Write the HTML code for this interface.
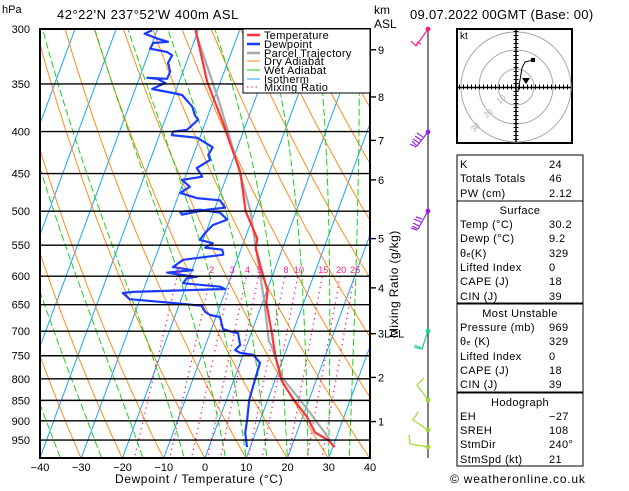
<!DOCTYPE html>
<html><head><meta charset="utf-8">
<style>
html,body{margin:0;padding:0;background:#fff;}
body{width:629px;height:486px;overflow:hidden;font-family:"Liberation Sans",sans-serif;}
svg text{font-family:"Liberation Sans",sans-serif;}
</style></head>
<body>
<svg id="chart" width="629" height="486" viewBox="0 0 629 486" xmlns="http://www.w3.org/2000/svg">
<defs><clipPath id="plotclip"><rect x="40" y="29" width="330" height="429"/></clipPath></defs>
<g id="bg" clip-path="url(#plotclip)"></g>
<g id="series" clip-path="url(#plotclip)"></g>
<g id="axes"></g>
<g id="extra"></g>
</svg>
<script>
// ---- data ----
const tempP = [969,950,930,890,845,805,750,700,645,625,600,555,540,500,448,413,389,348,300];
const tempT = [30.5,28.2,24.4,21.0,15.9,11.7,7.9,4.75,0.85,0.2,-2.2,-6.5,-7,-12.3,-17.1,-22.2,-25.9,-33.2,-40.8];
const dewP = [969,931,898,849,803,765,748,744,738,728,704,702,696,673,669,663,652,648,640,629,627,622,618,612,603,601,598,594,590,585,573,565,557,554,547,542,532,520,512,502,498,501,505,498,495,485,482,475,467,458,454,443,433,427,418,407,404,400,398,387,382,373,361,359,355,349,345,344,345,338,330,323,320,317,312,311,308,304,301];
const dewT = [9.2,7.5,6.8,5.5,5.1,4.8,2.4,-0.9,-2.4,-1.6,-3.2,-4.5,-7.2,-9.0,-11.6,-13.1,-14.4,-19.9,-32.5,-34.7,-32.3,-10.3,-11.7,-21,-20.5,-18.2,-22,-25.8,-19.8,-24.9,-23.1,-13.8,-14.5,-18.8,-17.4,-20.8,-20.2,-19,-16,-18.4,-23.5,-28.1,-27.4,-21.8,-17.6,-19.5,-25.3,-29.8,-28,-30.5,-25.9,-28,-25.5,-26.4,-26,-30.6,-37,-37,-33.8,-32,-33.2,-34.6,-38.1,-40.5,-45.9,-43.3,-45.6,-48.1,-43.2,-43.1,-44.4,-44.1,-45.6,-50,-49.8,-46.3,-49.3,-52.7,-51.2];
const parcelP = [969,948,877,795,730,720,645,574,500,435,368,302];
const parcelT = [30.2,28.5,21.1,11.2,6.1,5.0,0.4,-4.9,-11.1,-18.9,-28.5,-40.6];
const isobars = [300,350,400,450,500,550,600,650,700,750,800,850,900,950];
const xTicks = [-40,-30,-20,-10,0,10,20,30,40];
const mixRatios = [1,2,3,4,5,8,10,15,20,25];
const kmLabels = ["9","8","7","6","5","4","3","2","1"];
const kmHeights = [9,8,7,6,5,4,3,2,1];
const kmPress = [318,363,410,458,540,620,705,797,902];

// ---- axes functions ----
const X0=40, X1=370, Y0=29, Y1=458, SK=0.37, PX=4.125;
function yP(p){return Y0+356.6*Math.log(p/300);}
function xT(T,p){return X0+(T+40)*PX+(Y1-yP(p))*SK;}
const NS="http://www.w3.org/2000/svg";
function mk(tag,attrs,parent){const e=document.createElementNS(NS,tag);for(const k in attrs)e.setAttribute(k,attrs[k]);parent.appendChild(e);return e;}
const bg=document.getElementById('bg'), ser=document.getElementById('series'), ax=document.getElementById('axes'), ex=document.getElementById('extra');
function pathFrom(pts){return pts.map((q,i)=>(i?'L':'M')+q[0].toFixed(1)+' '+q[1].toFixed(1)).join(' ');}
const pressList=[];for(let p=1050;p>=290;p-=5)pressList.push(p);

// isotherms
for(let T=-130;T<=40;T+=10){
  const e=mk('path',{d:pathFrom([[xT(T,1050),yP(1050)],[xT(T,290),yP(290)]]),stroke:'#1aa3ff','stroke-width':1,fill:'none'},bg);
  
  
}
// dry adiabats
for(let th=-40;th<=220;th+=10){
  const pts=pressList.map(p=>[xT((th+273.15)*Math.pow(p/1000,0.2857)-273.15,p),yP(p)]);
  const e=mk('path',{d:pathFrom(pts),stroke:'#ff8c1a','stroke-width':1,fill:'none'},bg);
  
  
}
// wet adiabats
function es(T){return 6.112*Math.exp(17.67*T/(T+243.5));}
const wetList=[-35,-25,-15,-5,5,10,15,20,25,30,35,40];
wetList.forEach(tw=>{
  const pts=[];
  function step(T,p,dp){const rs=0.622*es(T-273.15)/(p-es(T-273.15));const Rd=287,cp=1005,L=2.5e6;
    const dTdp=(Rd*T+L*rs)/(p*(cp+L*L*rs*0.622/(Rd*T*T)));return T+dTdp*dp;}
  let Tb=tw+273.15,pb=1000; const down=[];
  while(pb<1050){Tb=step(Tb,pb,5);pb+=5;down.push([xT(Tb-273.15,pb),yP(pb)]);}
  let Tu=tw+273.15,pu=1000; pts.push([xT(tw,1000),yP(1000)]);
  while(pu>290){Tu=step(Tu,pu,-5);pu-=5;pts.push([xT(Tu-273.15,pu),yP(pu)]);}
  const all=down.reverse().concat(pts);
  const e=mk('path',{d:pathFrom(all),stroke:'#1ad11a','stroke-width':1,fill:'none','stroke-dasharray':'7,3'},bg);
  
  
});
// mixing ratio
function tdFromW(w,p){const e=w*p/(622+w);const l=Math.log(e/6.112);return 243.5*l/(17.67-l);}
mixRatios.forEach(w=>{
  const e=mk('path',{d:pathFrom([[xT(tdFromW(w,1050),1050),yP(1050)],[xT(tdFromW(w,600),600),yP(600)]]),stroke:'#ff1a8c','stroke-width':1.3,fill:'none','stroke-dasharray':'1.3,4'},bg);
  
  
  const t=mk('text',{x:xT(tdFromW(w,600),600)+1,y:yP(600)-3,'font-size':9,fill:'#ff1a8c','text-anchor':'middle'},ax);
  t.textContent=w;
  
  
});
// isobars
isobars.forEach(p=>{
  const e=mk('line',{x1:X0,x2:X1,y1:yP(p),y2:yP(p),stroke:'#000','stroke-width':1.4},ax);
  
  
  const t=mk('text',{x:30,y:yP(p)+4,'font-size':11,'text-anchor':'end',fill:'#000'},ax);
  t.textContent=p;
  
  
});
// series
function prof(P,T,color,w,name){
  const e=mk('path',{d:pathFrom(P.map((p,i)=>[xT(T[i],p),yP(p)])),stroke:color,'stroke-width':w,fill:'none','stroke-linejoin':'round'},ser);
  
  
}
prof(parcelP,parcelT,'#aaaaaa',2.2,'parcel-trajectory');
prof(tempP,tempT,'#ff3333',2.2,'temperature-line');
prof(dewP,dewT,'#1a3cff',2.2,'dewpoint-line');
// frame
const fr=mk('rect',{x:X0,y:Y0,width:X1-X0,height:Y1-Y0,fill:'none',stroke:'#000','stroke-width':2},ax);


xTicks.forEach(T=>{
  const x=X0+(T+40)*PX;
  const t=mk('text',{x:x,y:471,'font-size':11,'text-anchor':'middle'},ax);
  t.textContent=(T<0?'\u2212'+(-T):T);
  
  
});
kmPress.forEach((p,i)=>{
  const y=yP(p);
  const l=mk('line',{x1:X1,x2:X1+6,y1:y,y2:y,stroke:'#000','stroke-width':1.4},ax);
  
  
  const t=mk('text',{x:X1+8,y:y+4,'font-size':11},ax);
  t.textContent=kmLabels[i]+(kmHeights[i]===3?'LCL':'');
  
  
});
</script>
<svg style="position:absolute;left:0;top:0" width="629" height="486">
<g font-size="11" fill="#000">
<text x="2" y="13">hPa</text>
<text x="57" y="19" font-size="13" letter-spacing="0.5">42°22'N  237°52'W  400m  ASL</text>
<text x="374" y="14" font-size="12">km</text>
<text x="374" y="28" font-size="12">ASL</text>
<text x="410" y="19" font-size="13" letter-spacing="0.3">09.07.2022  00GMT  (Base: 00)</text>
<text x="115" y="483" font-size="12" letter-spacing="0.6">Dewpoint / Temperature (°C)</text>
<text transform="translate(398,338) rotate(-90)" font-size="12" letter-spacing="0.4">Mixing Ratio (g/kg)</text>
</g>
<g>
<rect x="243" y="29" width="127" height="64" fill="#fff" stroke="#000" stroke-width="1"/>
<g font-size="11" letter-spacing="0.3">
<line x1="247" x2="260" y1="35" y2="35" stroke="#ff3333" stroke-width="2.5"/><text x="264" y="39">Temperature</text>
<line x1="247" x2="260" y1="44" y2="44" stroke="#1a3cff" stroke-width="2.5"/><text x="264" y="48">Dewpoint</text>
<line x1="247" x2="260" y1="53" y2="53" stroke="#aaa" stroke-width="2.5"/><text x="264" y="57">Parcel Trajectory</text>
<line x1="247" x2="260" y1="61" y2="61" stroke="#ff8c1a" stroke-width="1"/><text x="264" y="65">Dry Adiabat</text>
<line x1="247" x2="260" y1="70" y2="70" stroke="#1ad11a" stroke-width="1"/><text x="264" y="74">Wet Adiabat</text>
<line x1="247" x2="260" y1="79" y2="79" stroke="#1aa3ff" stroke-width="1"/><text x="264" y="83">Isotherm</text>
<line x1="247" x2="260" y1="87" y2="87" stroke="#ff1a8c" stroke-width="1.3" stroke-dasharray="1.3,3"/><text x="264" y="91">Mixing Ratio</text>
</g></g>
<g>
<line x1="428" y1="29" x2="428" y2="458" stroke="#000" stroke-width="1"/>
<g stroke="#ff1a8c" fill="none" stroke-width="1.2"><circle cx="428" cy="29" r="1.8" fill="#ff1a8c"/><polyline points="428,29 416,46 411,41"/><polyline points="416,46 418,42 421,44"/></g>
<g stroke="#9922dd" fill="none" stroke-width="1.2"><circle cx="428" cy="132" r="1.8" fill="#9922dd"/><polyline points="428,132 417,146 412,141"/><path d="M419,143 L413,139 M421,140 L415,136 M423,137 L417,133 M416,147 L410,144"/></g>
<g stroke="#9922dd" fill="none" stroke-width="1.2"><circle cx="428" cy="211" r="1.8" fill="#9922dd"/><line x1="428" y1="211" x2="418" y2="229"/><path d="M418,229 L412,226 M419,226 L413,223 M421,222 L414,219 M422,219 L416,217 M417,230 L411,228"/></g>
<g stroke="#1ad1a0" fill="none" stroke-width="1.2"><circle cx="428" cy="331" r="1.8" fill="#1ad1a0"/><polyline points="428,331 422,349 414,347"/><path d="M421,348 L415,345"/></g>
<g stroke="#99dd33" fill="none" stroke-width="1.2"><circle cx="428" cy="400" r="1.8" fill="#99dd33"/><polyline points="428,400 417,385 424,378"/></g>
<g stroke="#99dd33" fill="none" stroke-width="1.2"><circle cx="428" cy="430" r="1.8" fill="#99dd33"/><polyline points="428,430 413,420 418,412"/></g>
<g stroke="#99dd33" fill="none" stroke-width="1.2"><circle cx="428" cy="447" r="1.8" fill="#99dd33"/><polyline points="428,447 410,444 409,435"/></g>
</g>
<g>
<rect x="457" y="29" width="115" height="114" fill="#fff" stroke="#000" stroke-width="2"/>
<g fill="none" stroke="#aaa" stroke-width="1"><circle cx="516" cy="87" r="18"/><circle cx="516" cy="87" r="37"/><circle cx="516" cy="87" r="55"/></g>
<line x1="458" x2="571" y1="87.5" y2="87.5" stroke="#000" stroke-width="1.5"/>
<line x1="516" x2="516" y1="30" y2="142" stroke="#000" stroke-width="1.5"/>
<line x1="459" x2="571" y1="87" y2="87" stroke="#000" stroke-width="5" stroke-dasharray="1,3"/>
<line x1="516" x2="516" y1="31" y2="142" stroke="#000" stroke-width="5" stroke-dasharray="1,3"/>
<text x="460" y="39" font-size="10">kt</text>
<polyline points="518,91 520,80 522,68 525,62 533,60" fill="none" stroke="#000" stroke-width="1"/>
<rect x="531" y="58" width="4" height="4" fill="#000"/>
<polygon points="522,78 530,78 526,84" fill="#000"/>
<g font-size="8" fill="#aaa"><text x="497" y="103" transform="rotate(-40 500 100)">10</text><text x="484" y="117" transform="rotate(-40 487 114)">20</text><text x="471" y="131" transform="rotate(-40 474 128)">30</text></g>
</g>
<g font-size="11" fill="#000" letter-spacing="0.4">
<rect x="457" y="155" width="126" height="46" fill="none" stroke="#000" stroke-width="1"/>
<text x="460" y="168">K</text><text x="549" y="168">24</text>
<text x="460" y="182">Totals Totals</text><text x="549" y="182">46</text>
<text x="460" y="197">PW (cm)</text><text x="549" y="197">2.12</text>
<rect x="457" y="201" width="126" height="102" fill="none" stroke="#000" stroke-width="1"/>
<text x="520" y="214" text-anchor="middle">Surface</text>
<text x="460" y="228">Temp (°C)</text><text x="549" y="228">30.2</text>
<text x="460" y="242">Dewp (°C)</text><text x="549" y="242">9.2</text>
<text x="460" y="257">θ<tspan font-size="7">e</tspan>(K)</text><text x="549" y="257">329</text>
<text x="460" y="271">Lifted Index</text><text x="549" y="271">0</text>
<text x="460" y="285">CAPE (J)</text><text x="549" y="285">18</text>
<text x="460" y="300">CIN (J)</text><text x="549" y="300">39</text>
<rect x="457" y="304" width="126" height="88" fill="none" stroke="#000" stroke-width="1"/>
<text x="520" y="317" text-anchor="middle">Most Unstable</text>
<text x="460" y="331">Pressure (mb)</text><text x="549" y="331">969</text>
<text x="460" y="345">θ<tspan font-size="7">e</tspan> (K)</text><text x="549" y="345">329</text>
<text x="460" y="360">Lifted Index</text><text x="549" y="360">0</text>
<text x="460" y="374">CAPE (J)</text><text x="549" y="374">18</text>
<text x="460" y="388">CIN (J)</text><text x="549" y="388">39</text>
<rect x="457" y="393" width="126" height="73" fill="none" stroke="#000" stroke-width="1"/>
<text x="520" y="406" text-anchor="middle">Hodograph</text>
<text x="460" y="420">EH</text><text x="549" y="420">−27</text>
<text x="460" y="434">SREH</text><text x="549" y="434">108</text>
<text x="460" y="448">StmDir</text><text x="549" y="448">240°</text>
<text x="460" y="463">StmSpd (kt)</text><text x="549" y="463">21</text>
</g>
<text x="450" y="483" font-size="12" letter-spacing="0.8">© weatheronline.co.uk</text>
</svg>
</body></html>
